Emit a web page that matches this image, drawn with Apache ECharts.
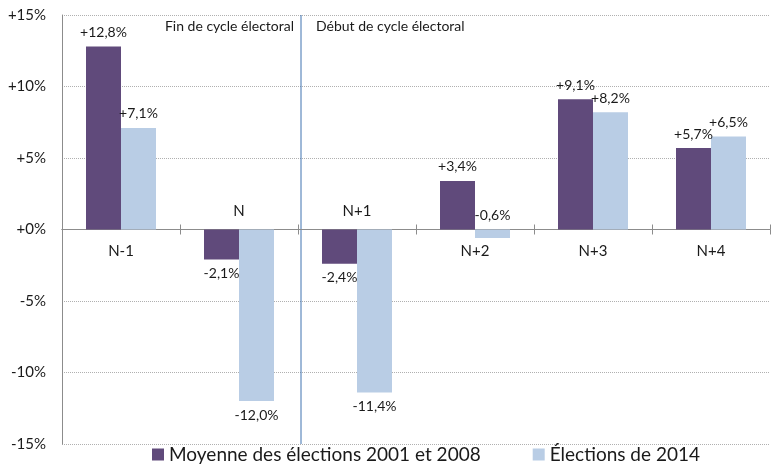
<!DOCTYPE html>
<html>
<head>
<meta charset="utf-8">
<script src="https://cdn.jsdelivr.net/npm/echarts@6/dist/echarts.min.js"></script>
<style>
  html, body { margin: 0; padding: 0; background: #fff; }
  #chart { width: 773px; height: 467px; }
</style>
</head>
<body>
<div id="chart"></div>
<script>
// données
const categories = ['N-1', 'N', 'N+1', 'N+2', 'N+3', 'N+4'];
const moyenne = [12.8, -2.1, -2.4, 3.4, 9.1, 5.7];
const elections2014 = [7.1, -12.0, -11.4, -0.6, 8.2, 6.5];
const seriesNames = ['Moyenne des élections 2001 et 2008', 'Élections de 2014'];
const yTicks = { min: -15, max: 15, interval: 5 };

const font = 'Lato, "Open Sans", sans-serif';
const textColor = '#1a1a1a';
const gridBox = { left: 62, right: 3, top: 15, bottom: 23 };
const gridH = 467 - gridBox.top - gridBox.bottom;

const chartDom = document.getElementById('chart');
const myChart = echarts.init(chartDom);

// étiquette au-dessus de l'axe si les deux barres sont négatives
const labelAbove = categories.map((c, i) => moyenne[i] < 0 && elections2014[i] < 0);

const fmtPct = v => (v >= 0 ? '+' : '') + v.toFixed(1).replace('.', ',') + '%';

const toItems = arr => arr.map(v => ({
  value: v,
  label: { position: v < -1 ? 'bottom' : 'top' }
}));

const barLabel = {
  show: true,
  fontFamily: font,
  fontSize: 14,
  color: textColor,
  distance: 7,
  formatter: p => fmtPct(p.value)
};

// l'axe des catégories est ramené sur la ligne du zéro par un décalage
const zeroFromBottom = gridH * (0 - yTicks.min) / (yTicks.max - yTicks.min);
const zeroFromTop = gridH - zeroFromBottom;

const catAxis = (pos, show) => ({
  type: 'category',
  data: categories,
  position: pos,
  offset: pos === 'bottom' ? -zeroFromBottom : -zeroFromTop,
  axisLine: { onZero: false, lineStyle: { color: '#8c8c8c', width: 1 } },
  axisTick: { show: true, length: 5, interval: 0, lineStyle: { color: '#8c8c8c' } },
  axisLabel: {
    interval: 0,
    margin: pos === 'bottom' ? 14 : 11,
    fontFamily: font,
    fontSize: 15,
    color: textColor,
    formatter: (v, i) => show(i) ? v : ''
  },
  splitLine: { show: false }
});

const option = {
  animation: false,
  textStyle: { fontFamily: font },
  grid: Object.assign({ containLabel: false }, gridBox),
  legend: {
    data: seriesNames,
    left: 152,
    top: 445,
    itemWidth: 12,
    itemHeight: 12,
    itemGap: 52,
    padding: 0,
    textStyle: { fontFamily: font, fontSize: 19, color: textColor },
    icon: 'rect'
  },
  xAxis: [
    catAxis('bottom', i => !labelAbove[i]),
    catAxis('top', i => labelAbove[i])
  ],
  yAxis: {
    type: 'value',
    min: yTicks.min,
    max: yTicks.max,
    interval: yTicks.interval,
    axisLine: { show: true, onZero: false, lineStyle: { color: '#8c8c8c' } },
    axisTick: { show: false },
    axisLabel: {
      margin: 16,
      fontFamily: font,
      fontSize: 15,
      color: textColor,
      formatter: v => (v >= 0 ? '+' : '') + v + '%'
    },
    splitLine: { show: true, lineStyle: { color: '#b0b0b0', type: [1, 1], width: 1 } }
  },
  series: [
    {
      name: seriesNames[0],
      type: 'bar',
      data: toItems(moyenne),
      barWidth: 35,
      barGap: '0%',
      itemStyle: { color: '#604A7B' },
      label: barLabel
    },
    {
      name: seriesNames[1],
      type: 'bar',
      data: toItems(elections2014),
      barWidth: 35,
      barGap: '0%',
      itemStyle: { color: '#B9CDE5' },
      label: barLabel
    }
  ]
};

option && myChart.setOption(option);

// séparation fin / début de cycle, entre N et N+1
const xN = myChart.convertToPixel({ xAxisIndex: 0 }, 'N');
const xN1 = myChart.convertToPixel({ xAxisIndex: 0 }, 'N+1');
const xSep = (xN + xN1) / 2 + 3;
const yTop = myChart.convertToPixel({ yAxisIndex: 0 }, yTicks.max);
const yBot = myChart.convertToPixel({ yAxisIndex: 0 }, yTicks.min);

myChart.setOption({
  graphic: [
    {
      type: 'line',
      shape: { x1: xSep, y1: yTop, x2: xSep, y2: yBot },
      style: { stroke: '#3F72B0', lineWidth: 1 },
      silent: true
    },
    {
      type: 'text',
      x: xSep - 7,
      y: 26,
      style: { text: 'Fin de cycle électoral', font: '14px ' + font, fill: textColor, align: 'right', verticalAlign: 'middle' }
    },
    {
      type: 'text',
      x: xSep + 15,
      y: 26,
      style: { text: 'Début de cycle électoral', font: '14px ' + font, fill: textColor, align: 'left', verticalAlign: 'middle' }
    }
  ]
});
</script>
</body>
</html>
